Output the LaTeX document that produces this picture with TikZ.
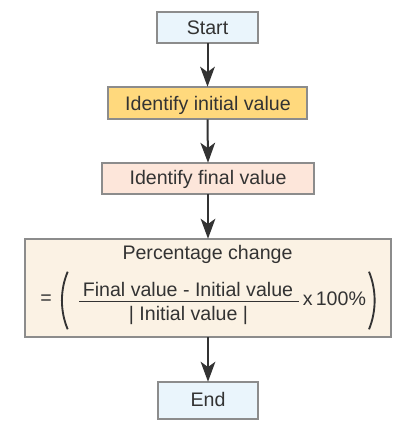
\documentclass[tikz,border=0pt]{standalone}
\usepackage{fontspec}
\setmainfont{Liberation Sans}
\usetikzlibrary{arrows.meta}
\definecolor{bordergray}{HTML}{8C8C8C}
\definecolor{txt}{HTML}{333333}
\definecolor{bluefill}{HTML}{EAF5FC}
\definecolor{yellowfill}{HTML}{FFD97D}
\definecolor{peachfill}{HTML}{FDE6DA}
\definecolor{creamfill}{HTML}{FBF2E4}
\tikzset{
  boxstyle/.style={draw=bordergray, line width=0.9pt, inner sep=0pt, outer sep=0pt},
  lbl/.style={text=txt, font=\fontsize{14.7}{17}\selectfont, inner sep=0pt, anchor=base},
  flowarrow/.style={draw=txt, line width=1.5pt, -{Stealth[length=15pt, width=11pt, inset=4pt]}},
  parenline/.style={draw=txt, line width=1.4pt},
}
\begin{document}
\begin{tikzpicture}[x=0.75pt, y=-0.75pt]
\useasboundingbox (0,0) rectangle (412,424);
% boxes
\path[boxstyle, fill=bluefill] (157,12) rectangle (258,43);
\node (start) [inner sep=0pt, minimum width=101*0.75pt, minimum height=31*0.75pt] at (207.5,27.5) {};
\node[lbl] at (207.5,34.3) {Start};

\path[boxstyle, fill=yellowfill] (108,87) rectangle (307,119);
\node (init) [inner sep=0pt, minimum width=199*0.75pt, minimum height=32*0.75pt] at (207.5,103) {};
\node[lbl] at (208,110.5) {Identify initial value};

\path[boxstyle, fill=peachfill] (102,163) rectangle (314,194);
\node (final) [inner sep=0pt, minimum width=212*0.75pt, minimum height=31*0.75pt] at (208,178.5) {};
\node[lbl] at (208,184) {Identify final value};

\path[boxstyle, fill=creamfill] (25,239) rectangle (391,337);
\node (pct) [inner sep=0pt, minimum width=366*0.75pt, minimum height=98*0.75pt] at (208,288) {};

\path[boxstyle, fill=bluefill] (158,382) rectangle (258,419);
\node (end) [inner sep=0pt, minimum width=100*0.75pt, minimum height=37*0.75pt] at (208,400.5) {};
\node[lbl] at (208,406.5) {End};

% formula
\node[lbl] (ptitle) at (207.5,259.5) {Percentage change};
\node[lbl, anchor=center] (eq) at (46,300) {=};
\draw[parenline] (67.7,271.7) .. controls (60,290) and (60,311) .. (67.7,329.3);
\draw[parenline] (369,271.7) .. controls (376.5,290) and (376.5,311) .. (369,329.3);
\node[lbl] (num) at (188,296.5) {Final value - Initial value};
\node[lbl] (den) at (188.5,320.5) {| Initial value |};
\coordinate (barL) at (79,301.7);
\coordinate (barR) at (299,301.7);
\draw[draw=txt, line width=0.9pt] (barL) -- (barR);
\node[lbl, anchor=base west] (times) at (302.5,305) {x\,100\%};

% arrows
\draw[flowarrow] (start.south) -- (init.north);
\draw[flowarrow] (init.south) -- (final.north);
\draw[flowarrow] (final.south) -- (pct.north);
\draw[flowarrow] (pct.south) -- (end.north);
\end{tikzpicture}
\end{document}
